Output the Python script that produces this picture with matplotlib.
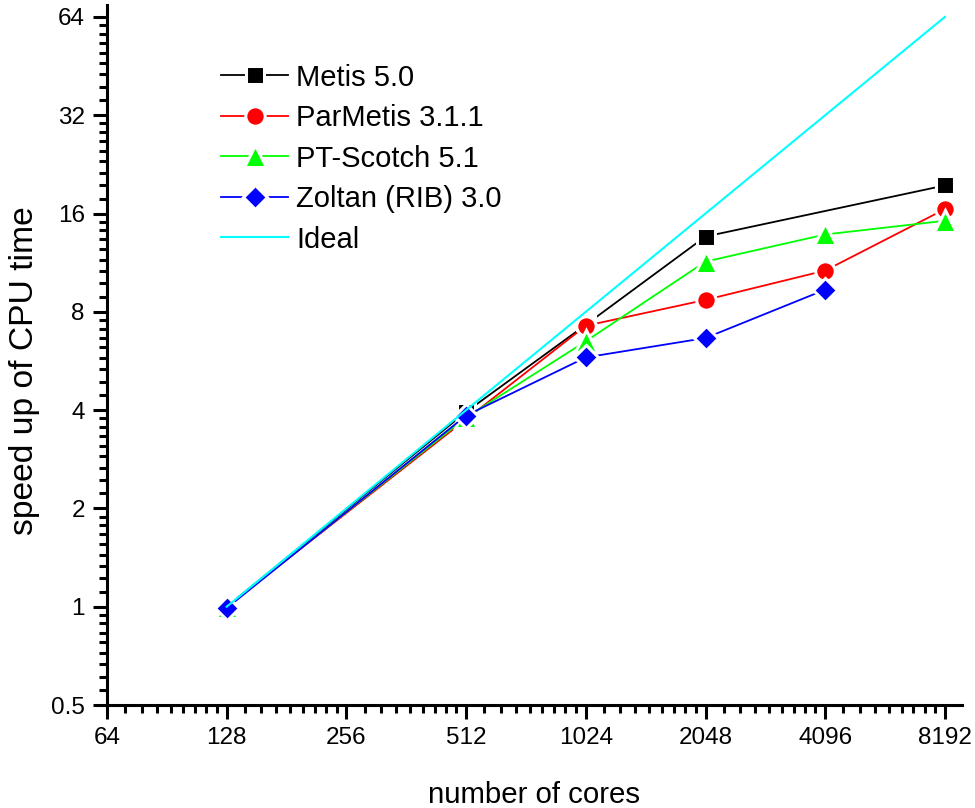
import matplotlib
matplotlib.use("Agg")
import matplotlib.pyplot as plt
import numpy as np
from matplotlib.ticker import FixedLocator, NullFormatter

plt.rcParams['font.family'] = ['Liberation Sans', 'DejaVu Sans']

# Data
cores_metis = [128, 512, 1024, 2048, 8192]
metis = [1.0, 3.95, 7.3, 13.6, 19.5]

cores_parmetis = [128, 512, 1024, 2048, 4096, 8192]
parmetis = [1.0, 3.75, 7.25, 8.7, 10.7, 16.5]

cores_scotch = [128, 512, 1024, 2048, 4096, 8192]
scotch = [1.0, 3.8, 6.5, 11.4, 13.8, 15.2]

cores_zoltan = [128, 512, 1024, 2048, 4096]
zoltan = [0.99, 3.85, 5.8, 6.65, 9.35]

cores_ideal = [128, 8192]
ideal = [1, 64]

xticks = [64, 128, 256, 512, 1024, 2048, 4096, 8192]
yticks = [0.5, 1, 2, 4, 8, 16, 32, 64]

fig = plt.figure(figsize=(9.75, 8.08), dpi=100)
ax = fig.add_axes([107/975, 1 - 705/808, 855/975, 700/808])

ax.set_xscale('log', base=2)
ax.set_yscale('log', base=2)

kw = dict(lw=1.3, markeredgecolor='white', markeredgewidth=2.2)
ax.plot(cores_metis, metis, color='black', marker='s', ms=12.8, label='Metis 5.0', **kw)
ax.plot(cores_parmetis, parmetis, color='#FF0000', marker='o', ms=14, label='ParMetis 3.1.1', **kw)
ax.plot(cores_scotch, scotch, color='#00FF00', marker='^', ms=16, label='PT-Scotch 5.1', **kw)
ax.plot(cores_zoltan, zoltan, color='#0000FF', marker='D', ms=12.3, label='Zoltan (RIB) 3.0', **kw)
ax.plot(cores_ideal, ideal, color='#00FFFF', lw=1.5, label='Ideal')

ax.set_xlim(64, 2 ** (6 + 855 / 119.7))
ax.set_ylim(0.5, 2 ** (-1 + 700 / 98.3))

ax.xaxis.set_major_locator(FixedLocator(xticks))
ax.set_xticklabels([str(t) for t in xticks])
ax.yaxis.set_major_locator(FixedLocator(yticks))
ax.set_yticklabels(['0.5'] + [str(int(t)) for t in yticks[1:]])

def minors(lo, hi):
    out = []
    v = lo
    while v < hi:
        out += [v * (1 + k / 9) for k in range(1, 9)]
        v *= 2
    return out

ax.xaxis.set_minor_locator(FixedLocator(minors(64, 16384)))
ax.yaxis.set_minor_locator(FixedLocator(minors(0.5, 128)))
ax.xaxis.set_minor_formatter(NullFormatter())
ax.yaxis.set_minor_formatter(NullFormatter())

ax.tick_params(which='major', direction='out', length=10, width=2.2, labelsize=17.5, pad=6)
ax.tick_params(which='minor', direction='out', length=5.5, width=2.2)

for s in ['top', 'right']:
    ax.spines[s].set_visible(False)
for s in ['left', 'bottom']:
    ax.spines[s].set_linewidth(2.2)

ax.set_xlabel('number of cores', fontsize=21.2, labelpad=23)
ax.set_ylabel('speed up of CPU time', fontsize=24.2)
ax.yaxis.set_label_coords(-0.078, 0.477)

leg = ax.legend(loc='upper left', bbox_to_anchor=(0.1333, 0.9164), frameon=False,
                fontsize=21, handlelength=2.3, handletextpad=0.27, labelspacing=0.43,
                borderpad=0, borderaxespad=0)

fig.savefig('out.png', dpi=100)
